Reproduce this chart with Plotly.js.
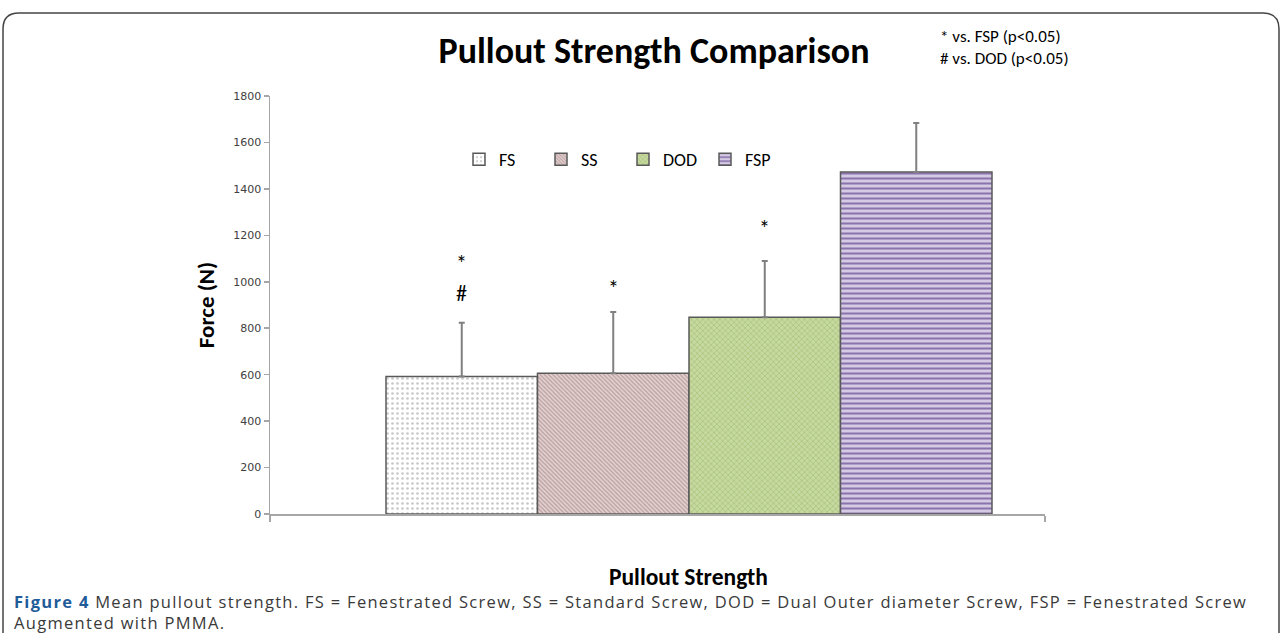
<!DOCTYPE html>
<html>
<head>
<meta charset="utf-8">
<script src="https://cdn.plot.ly/plotly-3.0.1.min.js"></script>
<style>
  html, body { margin: 0; padding: 0; background: #ffffff; }
  #chart { width: 1282px; height: 633px; }
</style>
</head>
<body>
<div id="chart"></div>
<script>
// ---- data ----
const categories = ['FS', 'SS', 'DOD', 'FSP'];
const meanForce = [592, 606, 847, 1473];
const sdForce = [232, 264, 243, 211];
const sigCategories = ['FS', 'FS', 'SS', 'DOD'];
const sigText = ['#', '*', '*', '*'];
const sigLevel = [950, 1080, 970, 1228];
const yTicks = [0, 200, 400, 600, 800, 1000, 1200, 1400, 1600, 1800];
const noteLines = ['* vs. FSP (p&lt;0.05)', '# vs. DOD (p&lt;0.05)'];
const captionLine1 = '<span style="letter-spacing:1.3px"><b><span style="color:#1f5c99">Figure 4</span></b> Mean pullout strength. FS = Fenestrated Screw, SS = Standard Screw, DOD = Dual Outer diameter Screw, FSP = Fenestrated Screw</span>';
const captionLine2 = '<span style="letter-spacing:1.3px">Augmented with PMMA.</span>';

// ---- styles ----
const fills = [
  {bg: '#ffffff', fg: '#c8c8c8', shape: '.', size: 5, solidity: 0.22},
  {bg: '#e3d1d1', fg: '#b99d9d', shape: '\\', size: 3, solidity: 0.4},
  {bg: '#c6d9a0', fg: '#a6bf76', shape: 'x', size: 4, solidity: 0.3},
  {bg: '#d5cae3', fg: '#8a72ad', shape: '-', size: 5, solidity: 0.4}
];

// ---- geometry (layout, pixels) ----
const W = 1282, H = 633;
const plotL = 270, plotR = 1045, plotT = 96, plotB = 514;
const px2x = p => (p - plotL) / (plotR - plotL);
const py2y = p => (plotB - p) / (plotB - plotT);
const font = 'Carlito, "Liberation Sans Narrow", "Open Sans", sans-serif';
const capFont = '"Open Sans", sans-serif';

const idx = c => categories.indexOf(c);

const traces = categories.map((c, i) => ({
  type: 'bar',
  name: c,
  x: [idx(c)],
  y: [meanForce[i]],
  width: 1,
  marker: {
    color: fills[i].bg,
    line: {color: '#595959', width: 1.5},
    pattern: {shape: fills[i].shape, fgcolor: fills[i].fg, bgcolor: fills[i].bg,
              size: fills[i].size, solidity: fills[i].solidity}
  },
  error_y: {type: 'data', array: [sdForce[i]], arrayminus: [0], symmetric: false,
            color: '#808080', thickness: 2, width: 3},
  hoverinfo: 'none'
}));

const annotations = sigText.map((t, k) => ({
  x: idx(sigCategories[k]), y: sigLevel[k], xref: 'x', yref: 'y',
  text: t, showarrow: false, font: {family: font, size: 22, color: '#000'},
  xanchor: 'center', yanchor: 'middle'
}));

noteLines.forEach((t, k) => annotations.push({
  x: px2x(938), y: py2y(37 + k * 21), xref: 'paper', yref: 'paper',
  text: t, showarrow: false, xanchor: 'left', yanchor: 'middle',
  font: {family: font, size: 17, color: '#000'}
}));

annotations.push({
  x: px2x(688), y: py2y(577), xref: 'paper', yref: 'paper',
  text: '<b>Pullout Strength</b>', showarrow: false, xanchor: 'center', yanchor: 'middle',
  font: {family: font, size: 23.5, color: '#000'}
});

annotations.push({
  x: px2x(12), y: py2y(601), xref: 'paper', yref: 'paper',
  text: captionLine1, showarrow: false, xanchor: 'left', yanchor: 'middle', align: 'left',
  font: {family: capFont, size: 16.5, color: '#3a3a3a'}
});
annotations.push({
  x: px2x(12), y: py2y(622), xref: 'paper', yref: 'paper',
  text: captionLine2, showarrow: false, xanchor: 'left', yanchor: 'middle', align: 'left',
  font: {family: capFont, size: 16.5, color: '#3a3a3a'}
});

// rounded frame
const fx0 = px2x(3), fx1 = px2x(1279), fy0 = py2y(13), fy1 = py2y(640);
const rx = 16 / (plotR - plotL), ry = 16 / (plotB - plotT);
const framePath = `M ${fx0} ${fy1} L ${fx0} ${fy0 - ry} Q ${fx0} ${fy0} ${fx0 + rx} ${fy0} ` +
  `L ${fx1 - rx} ${fy0} Q ${fx1} ${fy0} ${fx1} ${fy0 - ry} L ${fx1} ${fy1}`;

const xr0 = -0.5 - (386 - plotL) / 151.5;
const xr1 = 3.5 + (plotR - 992) / 151.5;

const layout = {
  width: W, height: H,
  margin: {l: plotL, r: W - plotR, t: plotT, b: H - plotB, pad: 0},
  paper_bgcolor: '#ffffff', plot_bgcolor: '#ffffff',
  barmode: 'overlay',
  showlegend: true,
  title: {
    text: '<b>Pullout Strength Comparison</b>',
    x: 654 / W, xref: 'container', xanchor: 'center',
    y: 1 - 50 / H, yref: 'container', yanchor: 'middle',
    font: {family: font, size: 36, color: '#000'}
  },
  legend: {
    orientation: 'h', x: px2x(459), y: py2y(141), xanchor: 'left', yanchor: 'top',
    font: {family: font, size: 18, color: '#000'},
    itemwidth: 30, entrywidth: 37, entrywidthmode: 'pixels',
    bgcolor: 'rgba(0,0,0,0)', traceorder: 'normal'
  },
  xaxis: {
    range: [xr0, xr1], showticklabels: false, showgrid: false, zeroline: false,
    showline: true, linecolor: '#a6a6a6', linewidth: 1.5,
    ticks: 'outside', tickvals: [xr0, xr1], ticklen: 6, tickcolor: '#a6a6a6', tickwidth: 1.5,
    fixedrange: true
  },
  yaxis: {
    range: [0, 1800], tickvals: yTicks, ticktext: yTicks.map(String),
    showgrid: false, zeroline: false,
    showline: true, linecolor: '#a6a6a6', linewidth: 1.5,
    ticks: 'outside', ticklen: 5, tickcolor: '#a6a6a6', tickwidth: 1.5,
    tickfont: {family: '"DejaVu Sans", sans-serif', size: 11, color: '#404040'},
    title: {text: '<b>Force (N)</b>', standoff: 12, font: {family: font, size: 23, color: '#000'}},
    automargin: false, fixedrange: true
  },
  annotations: annotations,
  shapes: [{type: 'path', xref: 'paper', yref: 'paper', path: framePath,
            line: {color: '#444', width: 1.5}, layer: 'below'}]
};

Plotly.newPlot('chart', traces, layout, {displayModeBar: false, staticPlot: true});
</script>
</body>
</html>
